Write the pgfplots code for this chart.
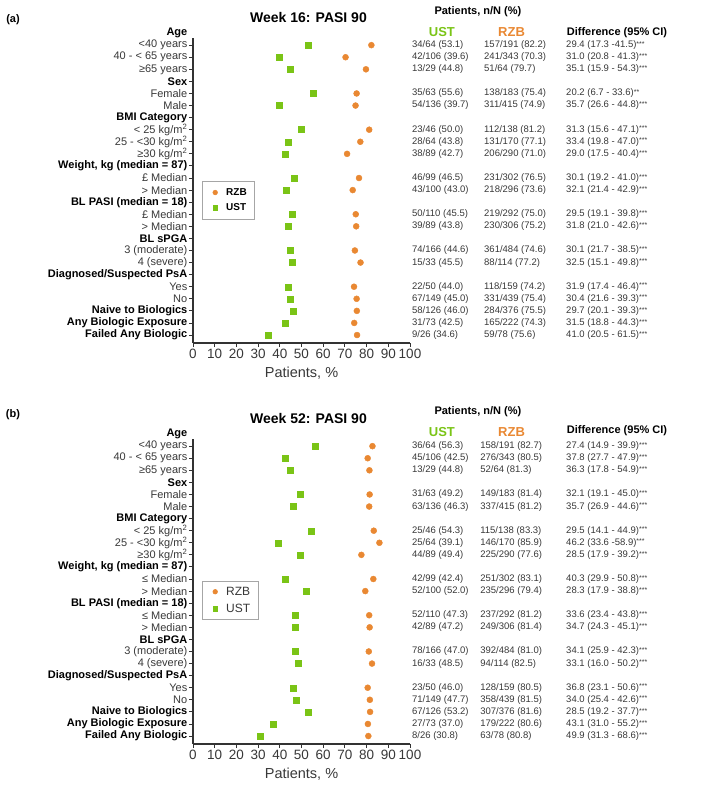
\documentclass[border=0pt]{standalone}
\usepackage{fontspec}
\setmainfont{Liberation Sans}
\usepackage{pgfplots}
\pgfplotsset{compat=1.18}
\definecolor{ustgreen}{RGB}{122,196,22}
\definecolor{rzborange}{RGB}{233,136,50}
\definecolor{lbl}{gray}{0.22}
\newcommand{\fs}[1]{\fontsize{#1}{#1}\selectfont}
\newcommand{\st}{{\fs{7}\raisebox{1.3pt}{***}}}
\newcommand{\sst}{{\fs{7}\raisebox{1.3pt}{**}}}
\newcommand{\hd}[1]{{\color{black}\textbf{#1}}}
\newcommand{\trow}[4]{%
  \node[tbl] at (axis cs:100.9,#1) {#2};
  \node[tbl] at (axis cs:\rzbx,#1) {#3};
  \node[tbl] at (axis cs:171.9,#1) {#4};}
\tikzset{tbl/.style={anchor=west, inner sep=0pt, font=\fs{9.5}, text=lbl}}
\pgfplotsset{forest/.style={
  scale only axis, width=217pt, height=305.1pt,
  xmin=0, xmax=100, ymin=-25.66, ymax=-0.4,
  axis x line*=bottom, axis y line*=left,
  tick align=outside, major tick length=4pt,
  xtick={0,10,...,100},
  ytick={-1,-2,...,-25},
  clip=false,
  /pgf/number format/assume math mode=true,
  xticklabel style={font=\fs{13.5}, inner sep=2pt, text=lbl},
  yticklabel style={font=\fs{11}, text=lbl, inner sep=1.5pt},
  xlabel={Patients, \%},
  xlabel style={font=\fs{14.5}, at={(axis description cs:0.5,0)}, anchor=center, yshift=-30pt, text=lbl},
  axis line style={line width=1.1pt, black!80},
  every tick/.style={line width=0.9pt, black!80},
  anchor=south west,
  legend image code/.code={\path[draw=none,fill=none] (0pt,-2pt) rectangle (16pt,2pt); \draw[##1, only marks, mark size=2.3pt] plot coordinates {(7pt,0pt)};},
}}
\begin{document}
\begin{tikzpicture}
\path[use as bounding box] (0,0) rectangle (709pt,-792pt);
\node[font=\bfseries\fs{11}] at (13pt,-20pt) {(a)};
\node[font=\bfseries\fs{11}] at (13pt,-415pt) {(b)};
% ---------------- Panel (a)
\def\rzbx{134.1}
\begin{axis}[forest, at={(193pt,-343pt)},
  yticklabels={{<40 years},{40 - < 65 years},{≥65 years},\hd{Sex},Female,Male,\hd{BMI Category},{< 25 kg/m\textsuperscript{2}},{25 - <30 kg/m\textsuperscript{2}},{≥30 kg/m\textsuperscript{2}},\hd{Weight, kg (median = 87)},{£ Median},{> Median},\hd{BL PASI (median = 18)},{£ Median},{> Median},\hd{BL sPGA},{3 (moderate)},{4 (severe)},\hd{Diagnosed/Suspected PsA},Yes,No,\hd{Naive to Biologics},\hd{Any Biologic Exposure},\hd{Failed Any Biologic}},
  legend style={at={(axis cs:4.1,-12.25)}, anchor=north west, draw=gray!70, line width=0.6pt, font=\bfseries\fs{10}, row sep=3pt, inner xsep=6pt, inner ysep=5pt, cells={anchor=west}},
]
\addplot[only marks, mark=*, mark size=3pt, color=rzborange] coordinates {
(82.2,-1) (70.3,-2) (79.7,-3) (75.4,-5) (74.9,-6) (81.2,-8) (77.1,-9) (71.0,-10)
(76.5,-12) (73.6,-13) (75.0,-15) (75.2,-16) (74.6,-18) (77.2,-19) (74.2,-21) (75.4,-22)
(75.5,-23) (74.3,-24) (75.6,-25)};
\addlegendentry{RZB}
\addplot[only marks, mark=square*, mark size=3pt, color=ustgreen] coordinates {
(53.1,-1) (39.6,-2) (44.8,-3) (55.6,-5) (39.7,-6) (50.0,-8) (43.8,-9) (42.7,-10)
(46.5,-12) (43.0,-13) (45.5,-15) (43.8,-16) (44.6,-18) (45.5,-19) (44.0,-21) (45.0,-22)
(46.0,-23) (42.5,-24) (34.6,-25)};
\addlegendentry{UST}
\node[font=\bfseries\fs{14}] at (axis cs:53.2,1.32) {Week 16: PASI 90};
\node[anchor=east, font=\bfseries\fs{11}, inner sep=1.5pt] at (axis cs:0,0) [xshift=-4pt] {Age};
\node[font=\bfseries\fs{11}] at (axis cs:131.3,1.74) {Patients, n/N (\%)};
\node[font=\bfseries\fs{13}, text=ustgreen] at (axis cs:114.7,0.08) {UST};
\node[font=\bfseries\fs{13}, text=rzborange] at (axis cs:146.8,0.08) {RZB};
\node[font=\bfseries\fs{11}] at (axis cs:195.4,0.0) {Difference (95\% CI)};
\trow{-1}{34/64 (53.1)}{157/191 (82.2)}{29.4 (17.3 -41.5)\st}
\trow{-2}{42/106 (39.6)}{241/343 (70.3)}{31.0 (20.8 - 41.3)\st}
\trow{-3}{13/29 (44.8)}{51/64 (79.7)}{35.1 (15.9 - 54.3)\st}
\trow{-5}{35/63 (55.6)}{138/183 (75.4)}{20.2 (6.7 - 33.6)\sst}
\trow{-6}{54/136 (39.7)}{311/415 (74.9)}{35.7 (26.6 - 44.8)\st}
\trow{-8}{23/46 (50.0)}{112/138 (81.2)}{31.3 (15.6 - 47.1)\st}
\trow{-9}{28/64 (43.8)}{131/170 (77.1)}{33.4 (19.8 - 47.0)\st}
\trow{-10}{38/89 (42.7)}{206/290 (71.0)}{29.0 (17.5 - 40.4)\st}
\trow{-12}{46/99 (46.5)}{231/302 (76.5)}{30.1 (19.2 - 41.0)\st}
\trow{-13}{43/100 (43.0)}{218/296 (73.6)}{32.1 (21.4 - 42.9)\st}
\trow{-15}{50/110 (45.5)}{219/292 (75.0)}{29.5 (19.1 - 39.8)\st}
\trow{-16}{39/89 (43.8)}{230/306 (75.2)}{31.8 (21.0 - 42.6)\st}
\trow{-18}{74/166 (44.6)}{361/484 (74.6)}{30.1 (21.7 - 38.5)\st}
\trow{-19}{15/33 (45.5)}{88/114 (77.2)}{32.5 (15.1 - 49.8)\st}
\trow{-21}{22/50 (44.0)}{118/159 (74.2)}{31.9 (17.4 - 46.4)\st}
\trow{-22}{67/149 (45.0)}{331/439 (75.4)}{30.4 (21.6 - 39.3)\st}
\trow{-23}{58/126 (46.0)}{284/376 (75.5)}{29.7 (20.1 - 39.3)\st}
\trow{-24}{31/73 (42.5)}{165/222 (74.3)}{31.5 (18.8 - 44.3)\st}
\trow{-25}{9/26 (34.6)}{59/78 (75.6)}{41.0 (20.5 - 61.5)\st}
\end{axis}
% ---------------- Panel (b)
\def\rzbx{132.3}
\begin{axis}[forest, at={(193pt,-744pt)},
  yticklabels={{<40 years},{40 - < 65 years},{≥65 years},\hd{Sex},Female,Male,\hd{BMI Category},{< 25 kg/m\textsuperscript{2}},{25 - <30 kg/m\textsuperscript{2}},{≥30 kg/m\textsuperscript{2}},\hd{Weight, kg (median = 87)},{≤ Median},{> Median},\hd{BL PASI (median = 18)},{≤ Median},{> Median},\hd{BL sPGA},{3 (moderate)},{4 (severe)},\hd{Diagnosed/Suspected PsA},Yes,No,\hd{Naive to Biologics},\hd{Any Biologic Exposure},\hd{Failed Any Biologic}},
  legend style={at={(axis cs:4.1,-12.17)}, anchor=north west, draw=gray!70, line width=0.6pt, font=\fs{12}, text=lbl, row sep=3pt, inner xsep=6pt, inner ysep=3.5pt, cells={anchor=west}},
]
\addplot[only marks, mark=*, mark size=3pt, color=rzborange] coordinates {
(82.7,-1) (80.5,-2) (81.3,-3) (81.4,-5) (81.2,-6) (83.3,-8) (85.9,-9) (77.6,-10)
(83.1,-12) (79.4,-13) (81.2,-15) (81.4,-16) (81.0,-18) (82.5,-19) (80.5,-21) (81.5,-22)
(81.6,-23) (80.6,-24) (80.8,-25)};
\addlegendentry{RZB}
\addplot[only marks, mark=square*, mark size=3pt, color=ustgreen] coordinates {
(56.3,-1) (42.5,-2) (44.8,-3) (49.2,-5) (46.3,-6) (54.3,-8) (39.1,-9) (49.4,-10)
(42.4,-12) (52.0,-13) (47.3,-15) (47.2,-16) (47.0,-18) (48.5,-19) (46.0,-21) (47.7,-22)
(53.2,-23) (37.0,-24) (30.8,-25)};
\addlegendentry{UST}
\node[font=\bfseries\fs{14}] at (axis cs:53.2,1.32) {Week 52: PASI 90};
\node[anchor=east, font=\bfseries\fs{11}, inner sep=1.5pt] at (axis cs:0,0) [xshift=-4pt] {Age};
\node[font=\bfseries\fs{11}] at (axis cs:131.3,1.82) {Patients, n/N (\%)};
\node[font=\bfseries\fs{13}, text=ustgreen] at (axis cs:114.7,0.17) {UST};
\node[font=\bfseries\fs{13}, text=rzborange] at (axis cs:146.8,0.17) {RZB};
\node[font=\bfseries\fs{11}] at (axis cs:195.4,0.25) {Difference (95\% CI)};
\trow{-1}{36/64 (56.3)}{158/191 (82.7)}{27.4 (14.9 - 39.9)\st}
\trow{-2}{45/106 (42.5)}{276/343 (80.5)}{37.8 (27.7 - 47.9)\st}
\trow{-3}{13/29 (44.8)}{52/64 (81.3)}{36.3 (17.8 - 54.9)\st}
\trow{-5}{31/63 (49.2)}{149/183 (81.4)}{32.1 (19.1 - 45.0)\st}
\trow{-6}{63/136 (46.3)}{337/415 (81.2)}{35.7 (26.9 - 44.6)\st}
\trow{-8}{25/46 (54.3)}{115/138 (83.3)}{29.5 (14.1 - 44.9)\st}
\trow{-9}{25/64 (39.1)}{146/170 (85.9)}{46.2 (33.6 -58.9)\st}
\trow{-10}{44/89 (49.4)}{225/290 (77.6)}{28.5 (17.9 - 39.2)\st}
\trow{-12}{42/99 (42.4)}{251/302 (83.1)}{40.3 (29.9 - 50.8)\st}
\trow{-13}{52/100 (52.0)}{235/296 (79.4)}{28.3 (17.9 - 38.8)\st}
\trow{-15}{52/110 (47.3)}{237/292 (81.2)}{33.6 (23.4 - 43.8)\st}
\trow{-16}{42/89 (47.2)}{249/306 (81.4)}{34.7 (24.3 - 45.1)\st}
\trow{-18}{78/166 (47.0)}{392/484 (81.0)}{34.1 (25.9 - 42.3)\st}
\trow{-19}{16/33 (48.5)}{94/114 (82.5)}{33.1 (16.0 - 50.2)\st}
\trow{-21}{23/50 (46.0)}{128/159 (80.5)}{36.8 (23.1 - 50.6)\st}
\trow{-22}{71/149 (47.7)}{358/439 (81.5)}{34.0 (25.4 - 42.6)\st}
\trow{-23}{67/126 (53.2)}{307/376 (81.6)}{28.5 (19.2 - 37.7)\st}
\trow{-24}{27/73 (37.0)}{179/222 (80.6)}{43.1 (31.0 - 55.2)\st}
\trow{-25}{8/26 (30.8)}{63/78 (80.8)}{49.9 (31.3 - 68.6)\st}
\end{axis}
\end{tikzpicture}
\end{document}
